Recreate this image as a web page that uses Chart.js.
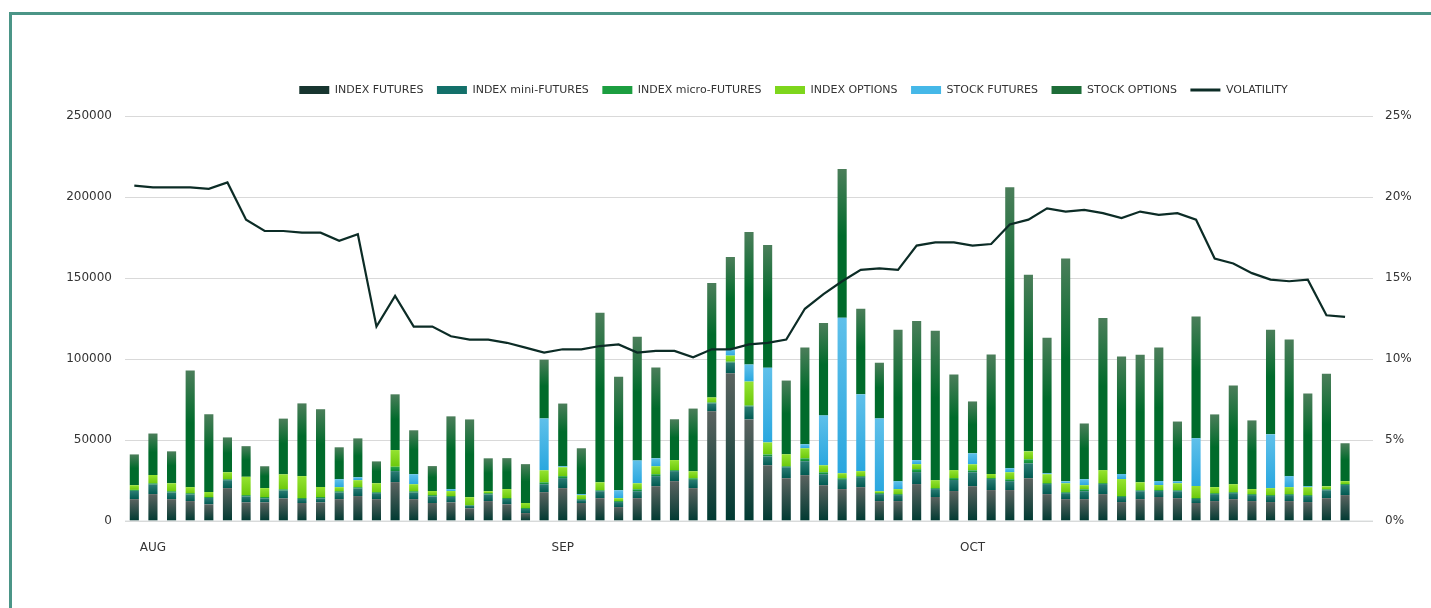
<!DOCTYPE html>
<html>
<head>
<meta charset="utf-8">
<script src="https://cdn.jsdelivr.net/npm/chart.js@4.4.0/dist/chart.umd.min.js"></script>
<style>
html, body { margin: 0; padding: 0; background: #fff; overflow: hidden; }
#frame { position: absolute; left: 9px; top: 12px; width: 1440px; height: 620px;
  border-left: 3px solid #4b9587; border-top: 3px solid #4b9587; }
#wrap { position: absolute; left: 0; top: 0; width: 1431px; height: 608px; }
</style>
</head>
<body>
<div id="frame"></div>
<div id="wrap"><canvas id="chart" width="1431" height="608"></canvas></div>
<script>
// month names and the bar they sit under (67 slots, last one empty)
let months = ['AUG', 'SEP', 'OCT']
let monthAt = [1, 23, 45]
let slots = 67

let indexFutures = [13500,16600,13500,12300,10300,20300,11500,11500,13900,11100,
  11500,13500,15400,13500,24000,13500,11100,11500,7800,12300,
  10300,4900,17800,20300,11100,14100,8600,14100,21500,24600,
  20300,67700,91200,62700,34400,26400,28300,22100,19700,20900,
  12300,12300,22800,14800,18500,21500,19100,19100,26400,16600,
  13500,13500,16600,11700,13500,14800,14100,11100,12300,13500,
  12300,11700,12300,11700,14100,16000]
let indexMini = [5100,5900,4100,4100,3900,4900,3700,2500,4900,2500,
  2500,4100,4700,3700,6800,4100,4100,3300,1600,4100,
  3300,2500,4900,6200,1800,4300,3100,4300,6200,6200,
  5100,4900,6600,8000,5500,6800,8600,6800,5700,6200,
  4300,3700,7400,4900,6800,8600,6800,5500,9200,6200,
  3700,4900,6200,3100,4900,3700,4300,2500,4300,3700,
  3700,3700,3700,3700,4900,6200]
let indexMicro = [600,800,800,800,600,600,800,800,800,600,
  800,800,800,600,2700,800,800,600,400,800,
  600,600,1200,1200,600,600,600,1200,1200,600,
  1000,600,600,600,1200,600,1800,1200,1000,600,
  600,600,1800,600,1200,1200,600,1200,2500,600,
  600,1200,600,600,600,600,600,600,600,600,
  600,600,600,600,600,600]
let indexOptions = [2900,5100,4900,3700,3100,4300,11300,5500,9200,13500,
  6200,2500,4300,5500,10300,4300,2500,3100,4900,1200,
  5500,3100,7400,5500,2500,4900,1800,3700,4900,6200,
  4300,3100,3700,14800,7400,7400,6200,4300,3100,3100,
  1200,3100,3100,4900,4900,3700,2500,4300,4900,5500,
  5500,2500,8000,10500,4900,3100,4300,7400,3700,4900,
  3100,4300,4300,4900,1800,1800]
let stockFutures = [0,0,0,0,0,0,0,0,0,0,
  0,4900,1800,0,0,6200,0,1200,0,0,
  0,0,32000,600,600,0,4900,14100,4900,0,
  0,0,3700,10500,46100,0,2500,30800,96000,47400,
  44900,4900,2500,0,0,6800,0,2500,0,600,
  1200,3700,0,3100,0,2500,1200,29500,0,0,
  0,33200,6800,600,0,0]
let stockOptions = [19000,25600,19700,72000,48000,21500,18900,13500,34400,44900,
  48000,19700,24000,13500,34400,27100,15400,44900,48000,20300,
  19100,24000,36300,38700,28300,104600,70100,76300,56000,25200,
  38700,70600,57200,81800,75800,45500,59700,57000,91800,52800,
  34400,93400,85900,92300,59000,32000,73800,173400,109000,83600,
  137500,34400,93900,72600,78700,82400,36900,75100,44900,60900,
  42400,64500,84300,57200,69500,23400]
let volatility = [20.7,20.6,20.6,20.6,20.5,20.9,18.6,17.9,17.9,17.8,
  17.8,17.3,17.7,12.0,13.9,12.0,12.0,11.4,11.2,11.2,
  11.0,10.7,10.4,10.6,10.6,10.8,10.9,10.4,10.5,10.5,
  10.1,10.6,10.6,10.9,11.0,11.2,13.1,14.0,14.8,15.5,
  15.6,15.5,17.0,17.2,17.2,17.0,17.1,18.3,18.6,19.3,
  19.1,19.2,19.0,18.7,19.1,18.9,19.0,18.6,16.2,15.9,
  15.3,14.9,14.8,14.9,12.7,12.6]

let seriesNames = ['INDEX FUTURES', 'INDEX mini-FUTURES', 'INDEX micro-FUTURES', 'INDEX OPTIONS', 'STOCK FUTURES', 'STOCK OPTIONS']
let barSeries = [indexFutures, indexMini, indexMicro, indexOptions, stockFutures, stockOptions]

let barStops = [
  [[0, '#5b6360'], [1, '#003a32']],
  [[0, '#2c7c74'], [1, '#005a51']],
  [[0, '#2aa84c'], [1, '#0b8a36']],
  [[0, '#95e330'], [1, '#6cc90c']],
  [[0, '#5fc0ea'], [1, '#2aa7df']],
  [[0, '#4b7e5a'], [0.45, '#006b2b'], [1, '#006b2b']]
]
let legendFill = ['#17352f', '#13706a', '#1c9e40', '#7ed61c', '#45b8e8', '#1d6d38']
let lineColor = '#0c2c26'

let labels = []
for (let i = 0; i < slots; i++) labels.push('')
months.forEach((m, k) => { labels[monthAt[k]] = m })

function segFill(di) {
  return function(ctx) {
    let stops = barStops[di]
    let chart = ctx.chart
    if (!chart.chartArea || ctx.type !== 'data') return stops[stops.length - 1][1]
    let i = ctx.dataIndex
    let base = 0
    for (let k = 0; k < di; k++) base += barSeries[k][i] || 0
    let v = barSeries[di][i] || 0
    let y = chart.scales.y
    let top = y.getPixelForValue(base + v)
    let bot = y.getPixelForValue(base)
    if (!(bot - top > 0.5)) return stops[stops.length - 1][1]
    let g = chart.ctx.createLinearGradient(0, top, 0, bot)
    stops.forEach(s => g.addColorStop(s[0], s[1]))
    return g
  }
}

let datasets = barSeries.map((d, di) => ({
  type: 'bar',
  label: seriesNames[di],
  data: d,
  backgroundColor: segFill(di),
  borderWidth: 0,
  categoryPercentage: 1,
  barPercentage: 0.49,
  yAxisID: 'y'
}))
datasets.push({
  type: 'line',
  label: 'VOLATILITY',
  data: volatility,
  borderColor: lineColor,
  borderWidth: 2.2,
  pointRadius: 0,
  tension: 0,
  fill: false,
  yAxisID: 'y1',
  order: -1
})

let layoutFix = {
  id: 'layoutFix',
  beforeLayout(chart) {
    let lg = chart.legend
    if (lg && !lg._patched) {
      let fit = lg.fit.bind(lg)
      lg.fit = function() { fit(); this.height += 10.5 }
      lg._patched = true
    }
  },
  afterLayout(chart) {
    let lg = chart.legend
    if (lg) { lg.left += 78; lg.right += 78 }
  },
  afterDatasetsDraw(chart) {
    let c = chart.ctx
    let y0 = chart.scales.y.getPixelForValue(0)
    c.save()
    c.strokeStyle = 'rgba(215,220,220,0.45)'
    c.lineWidth = 2
    c.beginPath()
    c.moveTo(chart.chartArea.left, y0)
    c.lineTo(chart.chartArea.right, y0)
    c.stroke()
    c.restore()
  }
}

Chart.defaults.font.family = 'DejaVu Sans'
Chart.defaults.color = '#333333'

new Chart('chart', {
  data: { labels: labels, datasets: datasets },
  plugins: [layoutFix],
  options: {
    responsive: false,
    devicePixelRatio: 1,
    animation: false,
    layout: { padding: { top: 71, left: 0, right: 0, bottom: 0 } },
    plugins: {
      tooltip: { enabled: false },
      legend: {
        position: 'top',
        labels: {
          usePointStyle: true,
          pointStyleWidth: 30,
          boxHeight: 8,
          padding: 13.5,
          font: { size: 11 },
          color: '#333333',
          generateLabels(chart) {
            let items = Chart.defaults.plugins.legend.labels.generateLabels(chart)
            items.sort((a, b) => a.datasetIndex - b.datasetIndex)
            items.forEach(it => {
              if (it.datasetIndex === barSeries.length) {
                it.pointStyle = 'line'
                it.strokeStyle = lineColor
                it.lineWidth = 3
              } else {
                it.pointStyle = 'rect'
                it.fillStyle = legendFill[it.datasetIndex]
                it.strokeStyle = legendFill[it.datasetIndex]
                it.lineWidth = 0
              }
            })
            return items
          }
        }
      }
    },
    scales: {
      x: {
        stacked: true,
        grid: { display: false },
        border: { display: false },
        ticks: { autoSkip: false, maxRotation: 0, padding: 12, font: { size: 12 }, color: '#333333' },
        afterFit(s) { s.height = 87 }
      },
      y: {
        stacked: true,
        position: 'left',
        min: 0,
        max: 250000,
        ticks: { stepSize: 50000, padding: 13, font: { size: 12 }, color: '#333333', callback: v => String(v) },
        grid: { color: '#d9d9d9', lineWidth: 1, drawTicks: false },
        border: { display: false },
        afterFit(s) { s.width = 125 }
      },
      y1: {
        position: 'right',
        min: 0,
        max: 25,
        ticks: { stepSize: 5, padding: 12, font: { size: 12 }, color: '#333333', callback: v => v + '%' },
        grid: { display: false, drawTicks: false },
        border: { display: false },
        afterFit(s) { s.width = 58 }
      }
    }
  }
})
</script>
</body>
</html>
